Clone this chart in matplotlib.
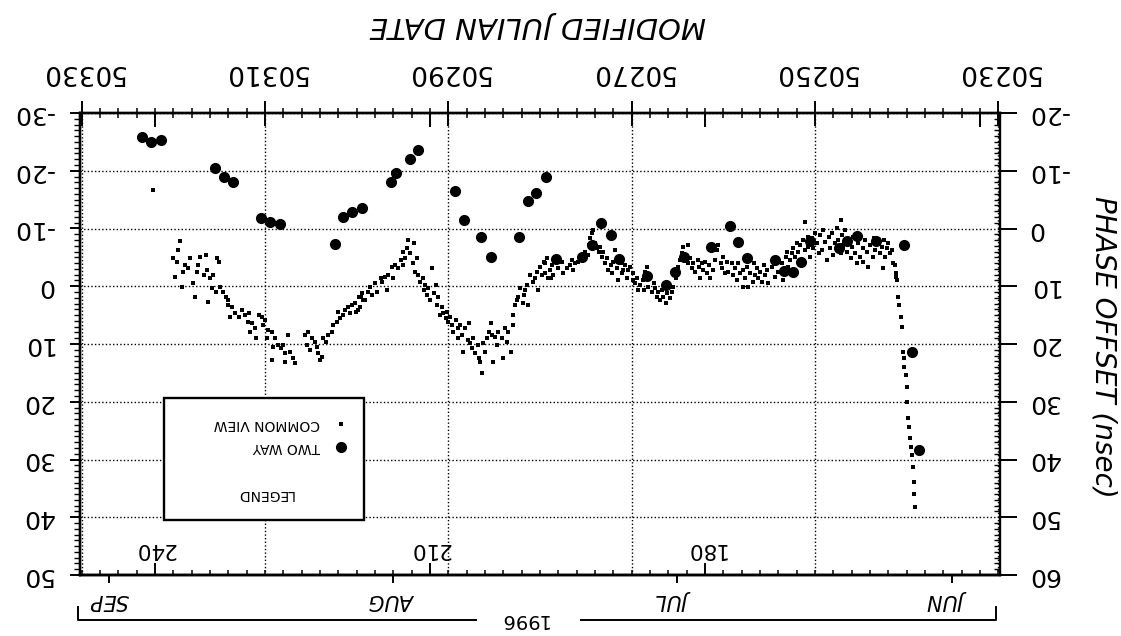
import matplotlib
matplotlib.use('Agg')
import matplotlib.pyplot as plt
from matplotlib.ticker import MultipleLocator, NullLocator
from matplotlib.patches import Rectangle
from matplotlib.transforms import blended_transform_factory

plt.rcParams['font.family'] = ['DejaVu Sans']
plt.rcParams['axes.unicode_minus'] = False

# ---------------- data ----------------
mjd_ticks = [50230, 50250, 50270, 50290, 50310, 50330]
phase_ticks = [-20, -10, 0, 10, 20, 30, 40, 50, 60]
second_scale_ticks = [-30, -20, -10, 0, 10, 20, 30, 40, 50]
SECOND_SCALE_SHIFT = 10           # second scale = phase offset - 10
MJD_DOY0 = 50082                  # MJD of day 0 of 1996
doy_ticks = [180, 210, 240]
doy_top_ticks = [150, 180, 210, 240]
month_mjd = [50235, 50265, 50296, 50327]
month_labels = ['JUN', 'JUL', 'AUG', 'SEP']
year_label = '1996'

# two way (large dots)
tw_mjd = [50323.4, 50322.4, 50321.4, 50315.5, 50314.5, 50313.5, 50310.5, 50309.5,
          50308.4, 50302.4, 50301.5, 50300.5, 50299.4, 50296.3, 50295.7, 50294.2,
          50293.3, 50289.3, 50288.3, 50286.4, 50285.4, 50282.3, 50281.3, 50280.4,
          50279.3, 50278.3, 50275.4, 50274.3, 50273.3, 50272.3, 50271.4, 50268.3,
          50266.3, 50265.3, 50264.3, 50261.3, 50259.3, 50258.4, 50257.4, 50254.4,
          50253.4, 50252.4, 50251.5, 50250.5, 50247.4, 50246.5, 50245.4, 50243.3,
          50240.3, 50239.4, 50238.6]
tw_val = [-15.9, -14.9, -15.3, -10.5, -9.0, -8.0, -1.8, -1.1,
          -0.8, 2.7, -2.0, -2.9, -3.6, -8.1, -9.6, -12.1,
          -13.6, -6.5, -1.4, 1.5, 5.0, 1.4, -4.7, -6.2,
          -9.0, 5.3, 4.9, 2.8, -1.0, 1.2, 5.2, 8.3,
          9.8, 7.6, 4.9, 3.2, -0.4, 2.4, 5.1, 5.5,
          7.4, 7.6, 5.8, 2.2, 3.4, 2.1, 1.3, 2.2,
          2.9, 21.3, 38.4]

# common view (small dots)
cv_mjd = [
    50319.5, 50319.3, 50320.0, 50319.6, 50319.8, 50319.1, 50319.0, 50318.7, 50318.2, 50318.4,
    50317.9, 50317.4, 50317.3, 50317.1, 50316.5, 50316.7, 50316.3, 50316.0, 50315.7, 50315.2,
    50315.0, 50315.8, 50315.4, 50316.2, 50317.6, 50314.9, 50314.6, 50314.3, 50314.0, 50314.1,
    50313.6, 50313.3, 50313.8, 50312.9, 50312.5, 50312.2, 50311.8, 50311.9, 50311.4, 50311.1,
    50311.6, 50311.0, 50310.7, 50310.3, 50310.0, 50310.2, 50309.7, 50309.2, 50309.8, 50308.9,
    50309.1, 50308.6, 50308.1, 50308.3, 50307.8, 50307.5, 50307.3, 50307.0, 50306.7, 50309.2,
    50307.8, 50322.2,
    50305.6, 50305.3, 50304.9, 50305.4, 50305.1, 50304.5, 50304.3, 50304.2, 50304.0, 50303.8,
    50303.7, 50303.4, 50303.1, 50302.7, 50302.6, 50302.1, 50302.0, 50301.8, 50301.5, 50301.3,
    50300.9, 50300.7, 50300.5, 50300.2, 50299.9, 50299.8, 50299.4, 50299.3, 50299.6,
    50300.1, 50299.5, 50299.1, 50298.8, 50298.5, 50298.3, 50298.0, 50297.8, 50297.4, 50297.2,
    50296.9, 50296.7, 50296.6, 50296.1, 50296.0, 50295.8, 50295.5, 50295.2, 50295.0, 50294.9,
    50294.7, 50294.5, 50294.4, 50294.2, 50293.9, 50293.8, 50293.6, 50293.4, 50293.3, 50293.1,
    50292.8, 50292.7, 50292.5, 50292.3, 50292.2, 50292.0, 50291.8, 50291.6, 50291.4, 50291.2,
    50291.1, 50290.9, 50290.7, 50290.6, 50290.3, 50290.1, 50290.0, 50289.8, 50289.6, 50289.5,
    50289.2, 50289.0, 50288.9, 50288.7, 50288.5, 50288.4, 50288.2, 50287.9, 50287.8, 50287.6,
    50287.4, 50287.3, 50287.1, 50286.8, 50286.7, 50286.5, 50286.3, 50286.2, 50286.0, 50285.8,
    50285.6, 50285.4, 50285.2, 50285.1, 50284.9, 50284.7, 50284.6, 50284.1, 50284.0, 50283.8,
    50283.6, 50283.5, 50283.2, 50283.0, 50282.9, 50282.7, 50282.5, 50282.4, 50282.2, 50281.9,
    50281.8, 50281.6, 50281.4, 50281.3, 50281.1, 50280.8, 50280.5, 50280.3, 50280.2, 50280.0,
    50279.8, 50279.6, 50279.4, 50279.2, 50279.1, 50278.9, 50278.7, 50278.6,
    50279.5, 50278.8, 50278.0, 50277.6, 50277.5, 50277.0, 50276.7, 50276.4, 50276.2, 50276.5,
    50275.8, 50275.1, 50274.8, 50274.7, 50274.5, 50274.3, 50274.2, 50274.0, 50273.8, 50273.6,
    50273.4, 50273.2, 50273.1, 50272.9, 50272.7, 50272.6, 50272.3, 50272.1, 50272.0, 50271.8,
    50271.6, 50271.5, 50271.2, 50271.0, 50270.9, 50270.7, 50270.5, 50270.4, 50270.2, 50269.9,
    50269.8, 50269.6, 50269.4, 50269.3, 50269.1, 50268.8, 50268.7, 50268.5, 50268.3, 50268.2,
    50268.0, 50267.8, 50267.6, 50267.4, 50267.2, 50267.1, 50266.9, 50266.7, 50266.6, 50266.3,
    50266.1, 50266.0, 50265.8, 50265.6, 50265.5, 50265.2, 50265.0, 50264.9, 50264.7, 50264.5,
    50264.4, 50264.2, 50263.9, 50263.8, 50263.6, 50263.4, 50263.3, 50263.1, 50262.8, 50262.7,
    50262.5, 50262.3, 50262.2, 50262.0, 50261.8, 50261.6, 50261.4, 50261.1, 50260.9, 50260.7,
    50260.6, 50260.3, 50260.1, 50260.0, 50259.8, 50259.6, 50259.5, 50259.0, 50258.9, 50258.7,
    50258.5, 50258.4, 50258.2, 50257.9, 50257.8, 50257.6, 50257.4, 50257.3, 50257.1, 50256.8,
    50256.7, 50256.5, 50256.3, 50256.2, 50256.0, 50255.8, 50255.6, 50255.4, 50255.2, 50255.1,
    50254.7, 50254.3, 50254.0, 50253.6, 50253.5, 50253.2, 50253.0, 50252.9, 50252.7, 50252.5,
    50252.4, 50252.2, 50251.9, 50251.8, 50251.6, 50251.4, 50251.3, 50251.1, 50250.8, 50250.7,
    50250.5, 50250.3, 50250.2, 50250.0, 50249.8, 50249.6, 50249.4, 50249.2, 50249.1, 50248.9,
    50248.7, 50248.5, 50248.3, 50248.1, 50248.0, 50247.8, 50247.6, 50247.5, 50247.2, 50247.0,
    50246.9, 50246.7, 50246.5, 50246.4, 50246.1, 50245.9, 50245.8, 50245.6, 50245.4, 50245.3,
    50245.1, 50244.8, 50244.7, 50244.5, 50244.3, 50244.2, 50244.0, 50243.7, 50243.6, 50243.4,
    50243.1, 50242.9, 50242.7, 50242.5, 50242.3, 50242.1, 50242.0, 50241.8, 50241.6, 50241.5,
    50241.2, 50241.0, 50242.6, 50241.3, 50251.1, 50247.2,
    50241.1, 50240.9, 50240.8, 50240.6, 50240.5, 50240.4, 50240.3, 50240.3, 50240.1, 50240.0,
    50239.9, 50239.8, 50239.7, 50239.6, 50239.5, 50239.4, 50239.3, 50239.2, 50239.2, 50239.1]
cv_val = [
    3.7, 2.2, 5.1, 5.8, 8.4, 10.1, 7.5, 6.3, 5.1, 6.8,
    9.4, 7.5, 6.3, 4.9, 4.6, 8.1, 7.2, 8.6, 8.1, 5.1,
    5.8, 10.3, 11.0, 12.7, 11.9, 10.1, 11.0, 11.9, 12.4, 13.2,
    13.6, 14.6, 15.3, 15.3, 14.1, 15.0, 14.6, 16.2, 16.4, 17.2,
    17.9, 19.0, 15.0, 15.3, 15.8, 16.7, 17.6, 17.9, 19.0, 19.0,
    20.5, 20.2, 20.2, 20.7, 21.6, 18.4, 21.4, 22.4, 23.3, 22.8,
    23.1, -6.7,
    18.4, 17.9, 19.0, 20.2, 21.0, 19.7, 20.5, 21.6, 22.8, 22.3,
    19.0, 19.7, 18.4, 17.9, 16.7, 16.2, 14.5, 15.5, 15.0, 14.1,
    13.6, 14.6, 13.2, 12.9, 14.1, 11.9, 11.2, 12.4, 13.6,
    14.5, 11.9, 12.4, 11.0, 10.1, 11.5, 9.4, 11.0, 8.6, 9.3,
    8.4, 10.6, 8.1, 6.7, 8.6, 6.3, 6.8, 5.5, 4.1, 6.3,
    5.1, 3.4, 2.0, 4.2, 6.0, 2.5, 7.5, 5.1, 8.1, 9.3,
    8.6, 10.6, 9.8, 11.5, 10.3, 12.4, 6.8, 11.2, 9.8, 13.2,
    11.9, 15.0, 13.6, 14.6, 15.5, 14.5, 16.2, 15.3, 16.7, 17.9,
    15.8, 17.2, 19.0, 16.7, 18.4, 21.4, 17.2, 19.3, 16.4, 19.8,
    20.7, 19.0, 21.6, 20.2, 22.4, 23.1, 25.0, 19.8, 21.4, 19.0,
    17.9, 16.4, 18.4, 23.1, 18.8, 20.2, 17.9, 19.0, 22.4, 17.2,
    19.7, 17.9, 21.4, 16.7, 15.0, 13.2, 12.4, 11.9, 10.3, 12.9,
    11.5, 10.6, 9.8, 13.2, 8.1, 9.3, 8.6, 7.5, 10.6, 6.7,
    8.1, 5.8, 7.7, 5.1, 8.6, 7.2, 6.3, 8.1,
    6.0, 8.6, 6.8, 5.8, 7.7, 6.8, 6.3, 7.2, 6.0, 5.5,
    5.8, 4.1, 4.6, 2.9, 1.6, 0.8, 0.3, 2.5, 3.4, 4.1,
    3.2, 4.9, 4.1, 6.0, 5.1, 7.2, 6.3, 7.7, 5.8, 3.7,
    6.8, 8.9, 6.0, 7.7, 7.2, 6.3, 8.6, 7.2, 6.7, 8.9,
    7.7, 9.4, 8.6, 10.6, 9.8, 8.9, 10.6, 7.5, 6.7, 10.1,
    8.6, 11.0, 9.4, 10.3, 11.9, 11.0, 12.4, 10.6, 11.9, 12.9,
    11.2, 10.1, 12.0, 11.0, 10.1, 8.6, 7.7, 6.7, 5.5, 4.2,
    3.2, 4.9, 2.9, 6.0, 5.1, 6.8, 6.0, 7.5, 5.5, 6.7,
    8.6, 6.0, 7.2, 5.8, 7.7, 6.3, 8.6, 7.2, 5.5, 3.7,
    2.9, 6.0, 6.8, 4.9, 7.7, 5.8, 7.5, 6.0, 8.1, 6.8,
    8.9, 6.0, 7.7, 10.1, 7.2, 8.6, 6.7, 10.1, 7.7, 9.3,
    6.0, 8.1, 6.8, 8.6, 7.5, 9.3, 6.3, 8.1, 7.2, 9.4,
    6.7, 8.4, 7.5, 6.0, 8.9, 4.9, 4.1, 6.7, 5.5, 4.2,
    3.4, 4.9, 2.5, 4.1, 2.9, 5.5, 2.0, 3.7, 1.5, 3.2,
    4.9, 1.6, 3.4, 0.8, 2.5, 4.2, 1.1, 3.7, 0.3, 2.3,
    5.5, 1.5, 3.4, 0.8, 4.6, 2.5, -0.1, 2.0, 4.2, 1.1,
    2.9, 0.3, 4.1, 2.0, 5.1, 3.2, 1.5, 4.2, 6.0, 2.5,
    4.9, 3.4, 5.8, 2.0, 4.1, 6.7, 2.9, 4.9, 1.6, 3.7,
    2.3, 4.2, 3.2, 2.0, 4.9, 3.4, 2.5, 4.2, 3.7, 6.0,
    7.7, 8.9, 6.9, 6.3, -1.2, -1.4,
    8.4, 11.9, 13.2, 15.3, 17.1, 21.4, 22.4, 24.0, 25.4, 27.4,
    30.0, 32.8, 34.4, 36.3, 37.8, 39.2, 41.3, 43.9, 45.9, 48.3]

legend_title = 'LEGEND'
series_names = ['TWO WAY', 'COMMON VIEW']

# ---------------- figure ----------------
W, H = 1121, 636
fig = plt.figure(figsize=(W / 100, H / 100), dpi=100)
ax = fig.add_axes([80 / W, 1 - 575 / H, 920 / W, 462 / H])
ax.set_xlim(50330.2, 50229.8)
ax.set_ylim(60, -20)

tw_style = dict(marker='o', ms=7, color='k', mec='k', ls='none')
cv_style = dict(marker='s', ms=2.4, color='k', mew=0, ls='none')
ax.plot(cv_mjd, cv_val, zorder=3, **cv_style)
ax.plot(tw_mjd, tw_val, zorder=4, **tw_style)

ax.grid(True, which='major', color='k', linestyle=(0, (1, 1.6)), lw=1.0)

# top MJD axis
ax.set_xticks(mjd_ticks, [str(t) for t in mjd_ticks], rotation=180, fontsize=19)
ax.xaxis.set_minor_locator(MultipleLocator(2))
ax.tick_params(axis='x', which='both', bottom=False, labelbottom=False,
               top=True, labeltop=True, direction='inout')
ax.tick_params(axis='x', which='major', length=18, width=1.4, pad=11)
ax.tick_params(axis='x', which='minor', length=7, width=1.1)

# right phase axis
ax.set_yticks(phase_ticks, [str(t) for t in phase_ticks], rotation=180,
              va='center', fontsize=18)
ax.yaxis.set_minor_locator(MultipleLocator(1))
ax.tick_params(axis='y', which='both', left=False, labelleft=False,
               right=True, labelright=True)
ax.tick_params(axis='y', which='major', direction='out', length=12, width=1.4, pad=8)
ax.tick_params(axis='y', which='minor', direction='in', length=4, width=1.0)

# left second scale
secl = ax.secondary_yaxis('left', functions=(lambda v: v - SECOND_SCALE_SHIFT,
                                             lambda v: v + SECOND_SCALE_SHIFT))
secl.set_yticks(second_scale_ticks, [str(t) for t in second_scale_ticks],
                rotation=180, va='center', fontsize=18)
secl.yaxis.set_minor_locator(MultipleLocator(1))
secl.tick_params(which='major', direction='out', length=7, width=1.4, pad=12)
secl.tick_params(which='minor', direction='out', length=4.3, width=1.0)

# day of year (bottom, inside)
to_doy = (lambda m: m - MJD_DOY0, lambda d: d + MJD_DOY0)
secd = ax.secondary_xaxis('bottom', functions=to_doy)
secd.set_xticks(doy_ticks, [str(d) for d in doy_ticks], rotation=180, fontsize=15.5)
secd.xaxis.set_minor_locator(MultipleLocator(2))
secd.tick_params(which='major', direction='in', length=9, width=1.4, pad=-26)
secd.tick_params(which='minor', direction='in', length=3.5, width=1.1)

# months (bottom, outside)
secm = ax.secondary_xaxis('bottom')
secm.set_xticks(month_mjd, month_labels, rotation=180, fontsize=15, fontstyle='italic')
secm.xaxis.set_minor_locator(NullLocator())
secm.tick_params(which='major', direction='out', length=6, width=1.4, pad=5)

# day of year marks on top
sect = ax.secondary_xaxis('top', functions=to_doy)
sect.set_xticks(doy_top_ticks, [''] * len(doy_top_ticks))
sect.xaxis.set_minor_locator(NullLocator())
sect.tick_params(which='major', direction='in', length=10, width=1.4)

for a in (ax, secl, secd, secm, sect):
    for s in a.spines.values():
        s.set_linewidth(1.7)

# axis titles (upside down)
fig.text(538 / W, 1 - 25 / H, 'MODIFIED JULIAN DATE', rotation=180, ha='center',
         va='center', fontsize=21, fontstyle='italic')
fig.text(1104 / W, 1 - 347 / H, 'PHASE OFFSET (nsec)', rotation=270, ha='center',
         va='center', fontsize=20, fontstyle='italic')

# legend (upside down, drawn by hand)
ax.add_patch(Rectangle((0.0913, 0.119), 0.2174, 0.264, transform=ax.transAxes,
                       facecolor='white', edgecolor='k', lw=1.7, zorder=5))
ax.plot([0.284], [0.277], transform=ax.transAxes, zorder=6, **tw_style)
ax.plot([0.284], [0.327], transform=ax.transAxes, zorder=6, **cv_style)
ax.text(0.261, 0.277, series_names[0], transform=ax.transAxes, rotation=180,
        ha='right', va='center', fontsize=10, zorder=6)
ax.text(0.261, 0.327, series_names[1], transform=ax.transAxes, rotation=180,
        ha='right', va='center', fontsize=10, zorder=6)
ax.text(0.201, 0.175, legend_title, transform=ax.transAxes, rotation=180,
        ha='center', va='center', fontsize=10, zorder=6)

# year bracket
bt = blended_transform_factory(ax.transAxes, fig.transFigure)
yb, yh = 1 - 620 / H, 1 - 607 / H
ax.plot([-0.002, -0.002, 0.43], [yh, yb, yb], transform=bt, color='k', lw=1.4, clip_on=False)
ax.plot([0.545, 0.996, 0.996], [yb, yb, yh], transform=bt, color='k', lw=1.4, clip_on=False)
ax.text(0.482, yb, year_label, transform=bt, rotation=180, ha='center', va='center',
        fontsize=14, clip_on=False)

fig.savefig('out.png', dpi=100)
